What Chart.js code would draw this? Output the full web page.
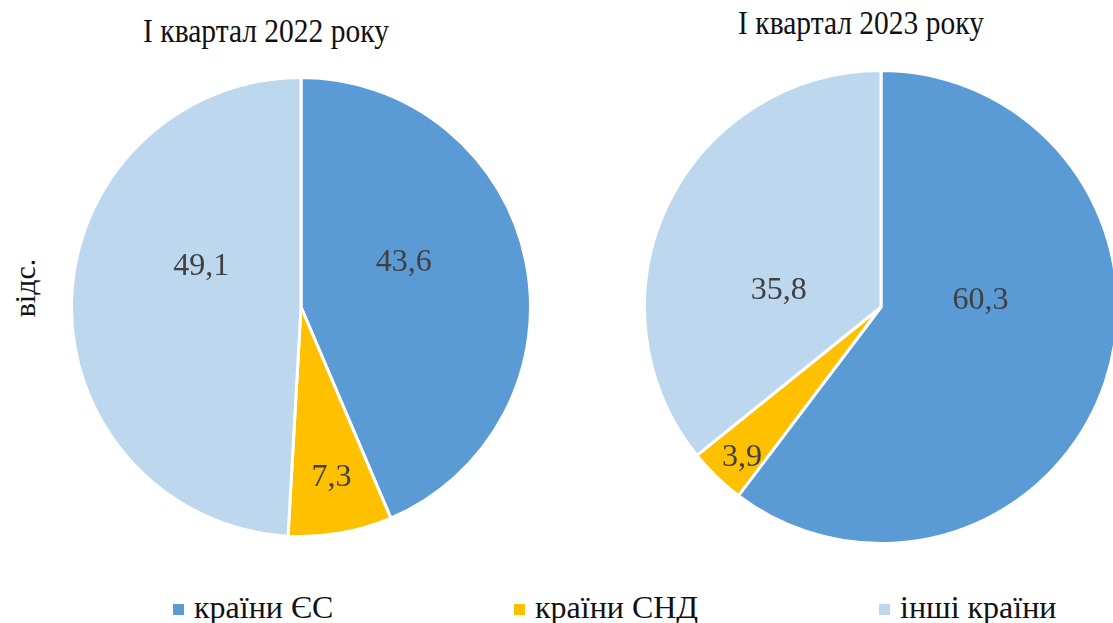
<!DOCTYPE html>
<html>
<head>
<meta charset="utf-8">
<script src="https://cdn.jsdelivr.net/npm/chart.js@4/dist/chart.umd.min.js"></script>
<style>
  html, body { margin: 0; padding: 0; background: #fff; overflow: hidden; }
  body { width: 1113px; height: 623px; position: relative; font-family: "Liberation Serif", "Times New Roman", serif; }
  .pie { position: absolute; }
  .title { position: absolute; font-size: 29.5px; color: #111; white-space: nowrap; transform: translateX(-50%) scaleY(1.15); transform-origin: 50% 0; line-height: 1; }
  .ylabel { position: absolute; left: 25px; top: 288px; font-size: 30px; color: #111; transform: translate(-50%, -50%) rotate(-90deg); white-space: nowrap; }
  #legend { position: absolute; top: 590px; left: 0; width: 1113px; height: 34px; }
  .item { position: absolute; font-size: 32px; line-height: 34px; color: #111; white-space: nowrap; }
  .item span.box { display: inline-block; width: 11px; height: 11px; margin-right: 10px; vertical-align: 3px; }
</style>
</head>
<body>
<div class="title" style="left:266px; top:14px;">І квартал 2022 року</div>
<div class="title" style="left:861px; top:6px;">І квартал 2023 року</div>
<div class="ylabel">відс.</div>
<div class="pie" style="left:70px; top:76px; width:462px; height:462px;"><canvas id="pie2022"></canvas></div>
<div class="pie" style="left:643px; top:69px; width:476px; height:476px;"><canvas id="pie2023"></canvas></div>
<div id="legend"></div>
<script>
// categories and values (відс.)
const categories = ['країни ЄС', 'країни СНД', 'інші країни'];
const values2022 = [43.6, 7.3, 49.1];
const values2023 = [60.3, 3.9, 35.8];
const colors = ['#5B9BD5', '#FFC000', '#BDD7EE'];

// draws value labels inside slices, small slices pushed outwards
const sliceLabels = {
  id: 'sliceLabels',
  afterDatasetsDraw(chart, args, opts) {
    const ctx = chart.ctx;
    const data = chart.data.datasets[0].data;
    const nudge = opts.nudge || [];
    chart.getDatasetMeta(0).data.forEach((arc, i) => {
      const p = arc.getProps(['x', 'y', 'startAngle', 'endAngle', 'outerRadius']);
      const mid = (p.startAngle + p.endAngle) / 2;
      const frac = data[i] < 5 ? 0.85 : data[i] < 10 ? 0.72 : 0.47;
      const r = p.outerRadius * frac;
      const [dx, dy] = nudge[i] || [0, 0];
      ctx.save();
      ctx.font = '32px "Liberation Serif", serif';
      ctx.fillStyle = '#404040';
      ctx.textAlign = 'center';
      ctx.textBaseline = 'middle';
      ctx.fillText(data[i].toFixed(1).replace('.', ','), p.x + Math.cos(mid) * r + dx, p.y + Math.sin(mid) * r + dy);
      ctx.restore();
    });
  }
};

function makePie(id, values, nudge) {
  return new Chart(document.getElementById(id), {
    type: 'pie',
    data: {
      labels: categories,
      datasets: [{
        data: values,
        backgroundColor: colors,
        borderColor: '#ffffff',
        borderWidth: 3
      }]
    },
    options: {
      responsive: true,
      maintainAspectRatio: false,
      animation: false,
      layout: { padding: 0 },
      plugins: {
        legend: { display: false },
        tooltip: { enabled: false },
        sliceLabels: { nudge: nudge } // Excel-like "best fit" shifts
      }
    },
    plugins: [sliceLabels]
  });
}

document.fonts.load('32px "Liberation Serif"').then(() => {
  makePie('pie2022', values2022, [[-3, -23], [2, 8], [8, -37]]);
  makePie('pie2023', values2023, [[-6, -42], [1, 6], [-2, 32]]);
});

// legend shared by both pies
const legendX = [173, 514, 879];
const legend = document.getElementById('legend');
categories.forEach((name, i) => {
  const el = document.createElement('div');
  el.className = 'item';
  el.style.left = legendX[i] + 'px';
  el.innerHTML = '<span class="box" style="background:' + colors[i] + '"></span>' + name;
  legend.appendChild(el);
});
</script>
</body>
</html>
